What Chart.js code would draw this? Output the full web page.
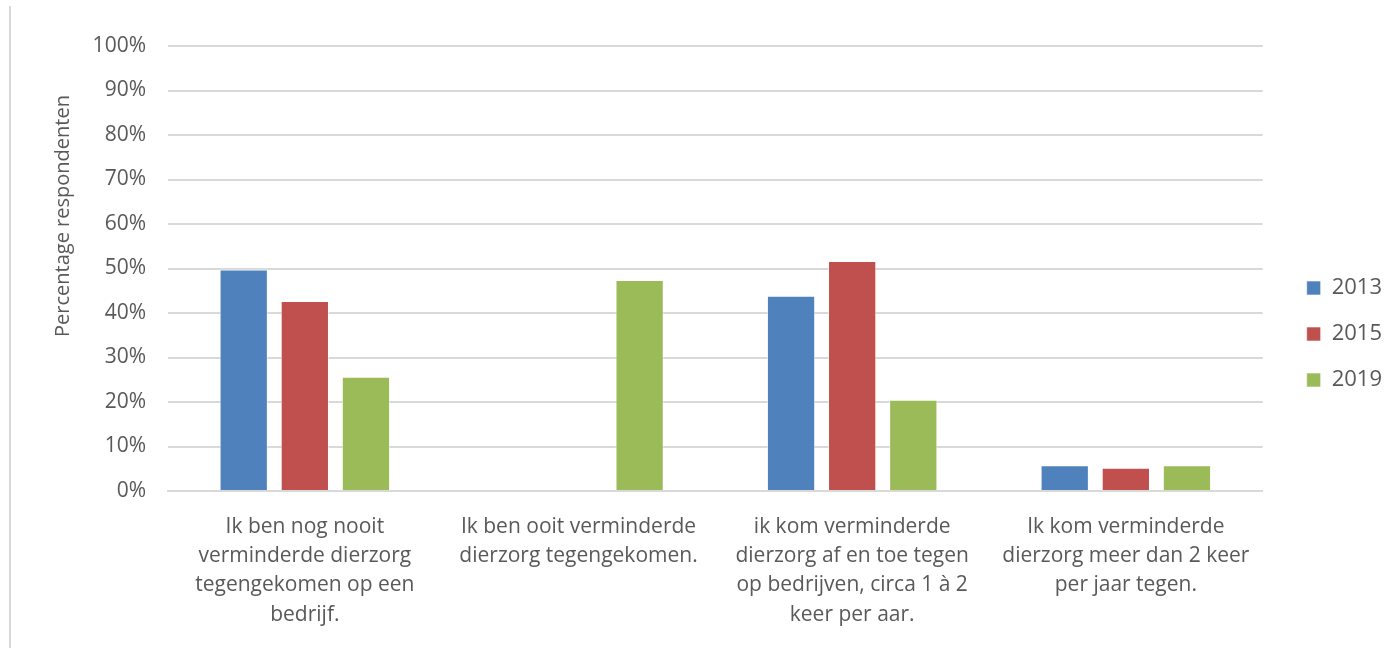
<!DOCTYPE html>
<html>
<head>
<meta charset="utf-8">
<script src="https://cdn.jsdelivr.net/npm/chart.js@4/dist/chart.umd.min.js"></script>
<style>
  html, body { margin: 0; padding: 0; background: #fff; overflow: hidden; }
  #frame {
    position: absolute; left: 9px; top: 6px; width: 1400px; height: 642px;
    border-left: 2px solid #d9d9d9;
  }
  #wrap { position: absolute; left: 0; top: 0; width: 1381px; height: 642px; }
</style>
</head>
<body>
<div id="frame"><div id="wrap"><canvas id="chart"></canvas></div></div>
<script>
// ─── Data ─────────────────────────────────────────────────────────────────────

const categories = [
  ['Ik ben nog nooit', 'verminderde dierzorg', 'tegengekomen op een', 'bedrijf.'],
  ['Ik ben ooit verminderde', 'dierzorg tegengekomen.'],
  ['ik kom verminderde', 'dierzorg af en toe tegen', 'op bedrijven, circa 1 à 2', 'keer per aar.'],
  ['Ik kom verminderde', 'dierzorg meer dan 2 keer', 'per jaar tegen.'],
];
const years   = ['2013', '2015', '2019'];
const y2013   = [49.8, null, 43.9, 5.8];
const y2015   = [42.7, null, 51.7, 5.2];
const y2019   = [25.7, 47.4, 20.5, 5.8];
const yTicks  = [0, 10, 20, 30, 40, 50, 60, 70, 80, 90, 100];
const yTitle  = 'Percentage respondenten';

const COLORS = {
  c2013: '#4f81bd',
  c2015: '#c0504d',
  c2019: '#9bbb59',
  grid:  '#d9d9d9',
  text:  '#595959',
};

const FONT = "'Open Sans','Noto Sans',sans-serif";

// ─── Y title (sits a bit above the axis centre, like the original) ────────────

const yTitlePlugin = {
  id: 'yTitle',
  afterDraw(chart) {
    const { ctx, chartArea } = chart;
    ctx.save();
    ctx.translate(chartArea.left - 105, chartArea.top + 170);
    ctx.rotate(-Math.PI / 2);
    ctx.font = `20px ${FONT}`;
    ctx.fillStyle = COLORS.text;
    ctx.textAlign = 'center';
    ctx.textBaseline = 'middle';
    ctx.fillText(yTitle, 0, 0);
    ctx.restore();
  },
};

// ─── Chart ────────────────────────────────────────────────────────────────────

const mkSet = (label, data, color) => ({
  label, data,
  backgroundColor: color,
  borderColor: 'rgba(255,255,255,.6)',
  borderWidth: 1,
  categoryPercentage: 0.67,
  barPercentage: 0.79,
});

// empty spacer axes, only there to push the plot away from the legend
const spacer = (position, size) => ({
  position,
  grid: { display: false },
  border: { display: false },
  ticks: { display: false },
  afterFit: ax => {
    if (ax.isHorizontal()) ax.height = size; else ax.width = size;
  },
});

new Chart(document.getElementById('chart'), {
  type: 'bar',
  data: {
    labels: categories,
    datasets: [
      mkSet(years[0], y2013, COLORS.c2013),
      mkSet(years[1], y2015, COLORS.c2015),
      mkSet(years[2], y2019, COLORS.c2019),
    ],
  },
  plugins: [yTitlePlugin],
  options: {
    responsive: true,
    maintainAspectRatio: false,
    animation: false,
    layout: { padding: { top: 14, right: 0, left: 0, bottom: 0 } },
    plugins: {
      legend: {
        position: 'right',
        labels: {
          boxWidth: 14, boxHeight: 14, padding: 24,
          color: COLORS.text,
          font: { family: FONT, size: 22 },
        },
      },
      tooltip: { enabled: false },
    },
    scales: {
      x: {
        grid: { display: false },
        border: { color: COLORS.grid, width: 2 },
        afterFit: ax => { ax.height = 157; },
        ticks: {
          color: COLORS.text,
          font: { family: FONT, size: 21, lineHeight: 1.4 },
          maxRotation: 0, autoSkip: false, padding: 13,
        },
      },
      y: {
        min: 0, max: 100,
        afterBuildTicks: ax => { ax.ticks = yTicks.map(v => ({ value: v })); },
        afterFit: ax => { ax.width = 157; },
        grid: { color: COLORS.grid, lineWidth: 2, drawTicks: false },
        border: { display: false },
        ticks: {
          color: COLORS.text,
          font: { family: FONT, size: 21 },
          padding: 22,
          callback: v => v + '%',
        },
      },
      gapTop:   { type: 'category', ...spacer('top', 26) },
      gapRight: spacer('right', 20),
    },
  },
});
</script>
</body>
</html>
